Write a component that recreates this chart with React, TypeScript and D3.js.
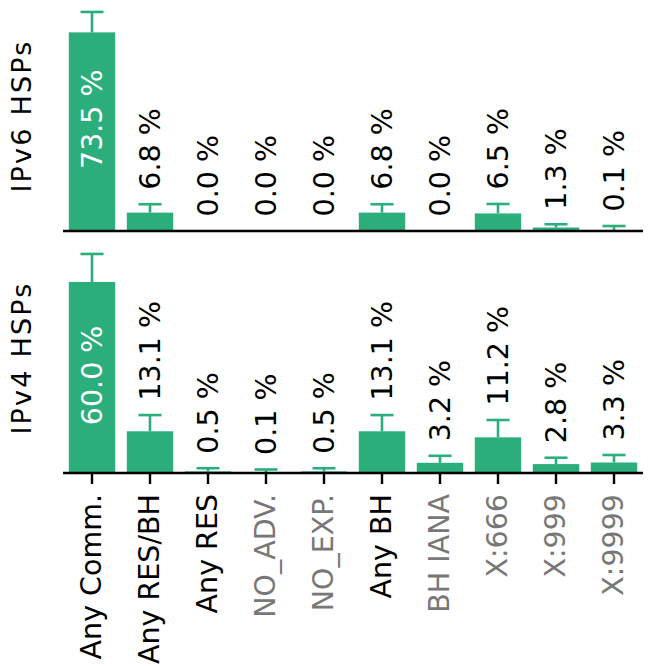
import React from "react";
import * as d3 from "d3";

// categories on the x axis (shared by both panels)
const categories = [
  "Any Comm.",
  "Any RES/BH",
  "Any RES",
  "NO_ADV.",
  "NO_EXP.",
  "Any BH",
  "BH IANA",
  "X:666",
  "X:999",
  "X:9999",
];
// specific communities get the muted label colour
const specificCategories = ["NO_ADV.", "NO_EXP.", "BH IANA", "X:666", "X:999", "X:9999"];

// share of HSPs (%) and error (upper) per category
const ipv6Share = [73.5, 6.8, 0.0, 0.0, 0.0, 6.8, 0.0, 6.5, 1.3, 0.1];
const ipv6Err = [7.55, 3.1, 0, 0, 0, 3.1, 0, 3.5, 1.2, 1.75];
const ipv4Share = [60.0, 13.1, 0.5, 0.1, 0.5, 13.1, 3.2, 11.2, 2.8, 3.3];
const ipv4Err = [8.8, 5.1, 1.0, 1.0, 1.0, 5.1, 2.2, 5.45, 2.0, 2.35];

const panelTitles = ["IPv6 HSPs", "IPv4 HSPs"];

const W = 666;
const H = 666;
const GREEN = "#2bae7b";
const FONT = "DejaVu Sans";
const FS = 28.5;

const x = d3
  .scaleBand<string>()
  .domain(categories)
  .range([63, 643])
  .paddingInner(0.2)
  .paddingOuter(0.1);

function Panel({ top, bottom, values, errs, title, showTicks }) {
  const yMax = (d3.max(values.map((v, i) => v + errs[i])) as number) * 1.05;
  const y = d3.scaleLinear().domain([0, yMax]).range([bottom, top]);
  const cx = (c: string) => (x(c) as number) + x.bandwidth() / 2;

  return (
    <g>
      {/* bars */}
      {categories.map((c, i) => (
        <rect
          key={"b" + c}
          x={x(c)}
          y={y(values[i])}
          width={x.bandwidth()}
          height={bottom - y(values[i])}
          fill={GREEN}
        />
      ))}

      {/* error bars (upper part only, lower part hides in the bar) */}
      {categories.map((c, i) =>
        errs[i] > 0 ? (
          <g key={"e" + c} stroke={GREEN} strokeWidth={2.6}>
            <line x1={cx(c)} x2={cx(c)} y1={y(values[i])} y2={y(values[i] + errs[i])} />
            <line
              x1={cx(c) - 11.5}
              x2={cx(c) + 11.5}
              y1={y(values[i] + errs[i])}
              y2={y(values[i] + errs[i])}
            />
          </g>
        ) : null
      )}

      {/* value labels */}
      {categories.map((c, i) => {
        const v = values[i];
        const inside = v > 30;
        const ty = inside ? y(v - 13.7) : y(v + errs[i]) - 14.5;
        return (
          <text
            key={"t" + c}
            transform={`translate(${cx(c)},${ty}) rotate(-90)`}
            dy="0.35em"
            textAnchor={inside ? "end" : "start"}
            fill={inside ? "#fff" : "#000"}
            fontFamily={FONT}
            fontSize={FS}
          >
            {v.toFixed(1)} %
          </text>
        );
      })}

      {/* x axis line */}
      <line x1={63} x2={643} y1={bottom} y2={bottom} stroke="#000" strokeWidth={2.6} />

      {showTicks &&
        categories.map((c) => (
          <g key={"k" + c}>
            <line x1={cx(c)} x2={cx(c)} y1={bottom} y2={bottom + 11} stroke="#000" strokeWidth={2.4} />
            <text
              transform={`translate(${cx(c)},${bottom + 21}) rotate(-90)`}
              dy="0.33em"
              textAnchor="end"
              fill={specificCategories.includes(c) ? "#777" : "#000"}
              fontFamily={FONT}
              fontSize={FS}
            >
              {c}
            </text>
          </g>
        ))}

      {/* panel label */}
      <text
        transform={`translate(31,${(top + bottom) / 2}) rotate(-90)`}
        textAnchor="middle"
        fill="#000"
        fontFamily={FONT}
        fontSize={27}
        letterSpacing={2.2}
      >
        {title}
      </text>
    </g>
  );
}

export default function App() {
  return (
    <svg
      width={W}
      height={H}
      style={{ position: "absolute", left: 0, top: 0, background: "#fff" }}
    >
      <rect width={W} height={H} fill="#fff" />
      <Panel top={1} bottom={231} values={ipv6Share} errs={ipv6Err} title={panelTitles[0]} showTicks={false} />
      <Panel top={243} bottom={473} values={ipv4Share} errs={ipv4Err} title={panelTitles[1]} showTicks={true} />
    </svg>
  );
}
